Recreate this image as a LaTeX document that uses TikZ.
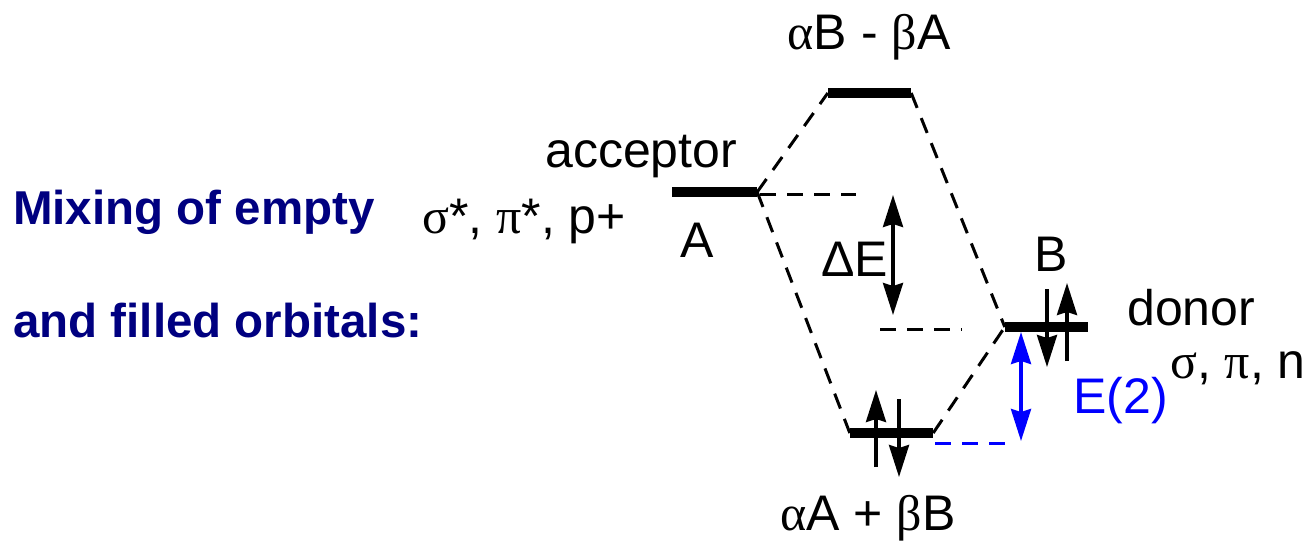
\documentclass[tikz,border=0pt]{standalone}
\usepackage{fontspec}
\setmainfont{Liberation Sans}
\newfontfamily\gr{Liberation Serif}
\usetikzlibrary{arrows.meta}
\definecolor{navytext}{RGB}{0,0,128}
\definecolor{eblue}{RGB}{0,0,255}
\tikzset{
  lvl/.style={fill=black, inner sep=0pt, minimum height=10pt, draw=none},
  lbl/.style={anchor=base west, inner sep=0pt, font=\fontsize{50}{60}\selectfont},
  lblc/.style={anchor=base, inner sep=0pt, font=\fontsize{50}{60}\selectfont},
  ttl/.style={anchor=base west, inner sep=0pt, text=navytext, font=\fontsize{47.5}{57}\selectfont\bfseries},
  corr/.style={dash pattern=on 16pt off 11pt, line width=3pt},
  tip/.style={line width=3.4pt},
  hd/.tip={Stealth[length=32pt,width=20pt,inset=3pt]}
}
\begin{document}
\begin{tikzpicture}[x=1pt,y=-1pt]
\useasboundingbox (0,0) rectangle (1316,543);
% levels
\node[lvl, minimum width=83pt] (T) at (869.5,93) {};
\node[lvl, minimum width=85pt] (A) at (714.5,192) {};
\node[lvl, minimum width=83pt] (B) at (1046.5,327) {};
\node[lvl, minimum width=83pt] (L) at (891.5,433) {};
% correlation lines
\draw[corr] (A.east) -- (T.west);
\draw[corr] (T.east) -- (B.west);
\draw[corr] (A.east) -- (L.west);
\draw[corr] (L.east) -- (B.west);
\coordinate (ah) at (856,194);
\draw[corr] (A.east) ++(3,2) -- (ah);
\coordinate (bh1) at (880,329);
\coordinate (bh2) at (962,329);
\draw[corr] (bh1) -- (bh2);
\coordinate (eb1) at (935,443);
\coordinate (eb2) at (1014,443);
\draw[corr, eblue] (eb1) -- (eb2);
% Delta E arrow
\coordinate (de1) at (893,195);
\coordinate (de2) at (893,315);
\draw[tip, {hd}-{hd}] (de1) -- (de2);
% E(2) arrow
\coordinate (e21) at (1021,332);
\coordinate (e22) at (1021,441);
\draw[tip, eblue, {hd}-{hd}] (e21) -- (e22);
% electrons on B
\coordinate (bd1) at (1047,289);
\coordinate (bd2) at (1047,367);
\draw[tip, -{hd}] (bd1) -- (bd2);
\coordinate (bu1) at (1067,361);
\coordinate (bu2) at (1067,283);
\draw[tip, -{hd}] (bu1) -- (bu2);
% electrons on bonding level
\coordinate (lu1) at (876,467);
\coordinate (lu2) at (876,390);
\draw[tip, -{hd}] (lu1) -- (lu2);
\coordinate (ld1) at (899,399);
\coordinate (ld2) at (899,477);
\draw[tip, -{hd}] (ld1) -- (ld2);
% labels
\node[lblc] (tT) at (869,50) {{\gr α}B - {\gr β}A};
\node[lblc] (tL) at (868,530) {{\gr α}A + {\gr β}B};
\node[lbl] (tacc) at (545,167) {acceptor};
\node[lblc] (tA) at (697,257) {A};
\node[lbl] (tsig) at (422,233) {{\gr σ}*, {\gr π}*, p+};
\node[lbl] (tde) at (821,276) {Δ{}E};
\node[lblc] (tB) at (1051,271) {B};
\node[lbl] (tdon) at (1127,325) {donor};
\node[lbl] (tsn) at (1170,378) {{\gr σ}, {\gr π}, n};
\node[lbl, text=eblue] (te2) at (1073,413) {E(2)};
\node[ttl] (m1) at (13,224) {Mixing of empty};
\node[ttl] (m2) at (13,337) {and filled orbitals:};
\end{tikzpicture}
\end{document}
